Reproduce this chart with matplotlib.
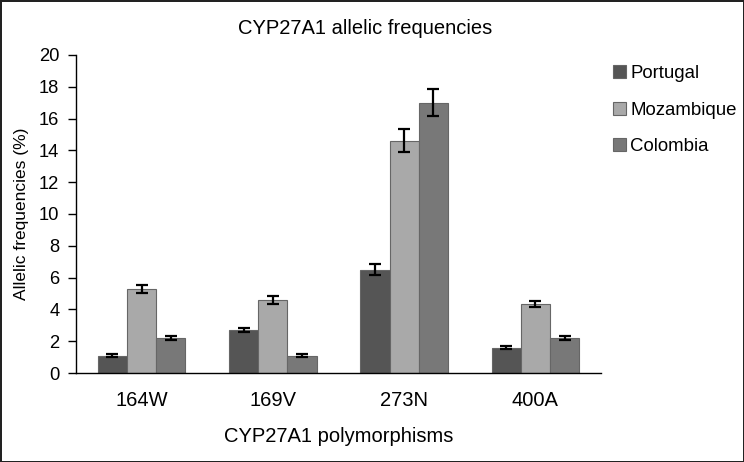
import matplotlib
matplotlib.use('Agg')

import matplotlib.pyplot as plt
import numpy as np

# data
categories = ['164W', '169V', '273N', '400A']
portugal = [1.1, 2.7, 6.5, 1.6]
portugal_err = [0.08, 0.15, 0.35, 0.08]
mozambique = [5.3, 4.6, 14.6, 4.35]
mozambique_err = [0.25, 0.25, 0.72, 0.2]
colombia = [2.2, 1.1, 17.0, 2.2]
colombia_err = [0.15, 0.07, 0.85, 0.15]

series = [('Portugal', portugal, portugal_err, '#555555'),
          ('Mozambique', mozambique, mozambique_err, '#a9a9a9'),
          ('Colombia', colombia, colombia_err, '#787878')]

plt.rcParams['font.family'] = ['Liberation Sans', 'DejaVu Sans']
plt.rcParams['font.size'] = 12.5

fig = plt.figure(figsize=(7.44, 4.62), dpi=100)
fig.patch.set_edgecolor('#222222')
fig.patch.set_linewidth(2)
ax = fig.add_axes([0.1022, 0.1926, 0.7056, 0.6884])

x = np.arange(len(categories))
w = 0.2225
for i, (name, vals, errs, col) in enumerate(series):
    ax.bar(x + (i - 1) * w, vals, w, color=col, edgecolor='#666666',
           linewidth=0.8, label=name,
           yerr=errs, capsize=4,
           error_kw=dict(ecolor='black', elinewidth=1.6, capthick=1.6))

ax.set_xlim(-0.5, len(categories) - 0.5)
ax.set_ylim(0, 20)
ax.set_yticks(np.arange(0, 21, 2))
ax.set_xticks(x)
ax.set_xticklabels(categories, fontsize=14.5)

ax.spines['top'].set_visible(False)
ax.spines['right'].set_visible(False)
ax.spines['left'].set_linewidth(1.0)
ax.spines['bottom'].set_linewidth(1.0)
ax.tick_params(axis='y', direction='out', length=6, width=1.0, pad=6,
               labelsize=13.2)
ax.tick_params(axis='x', length=0, pad=13)

ax.set_xlabel('CYP27A1 polymorphisms', fontsize=14.5, labelpad=12)
ax.set_ylabel('Allelic frequencies (%)', labelpad=7)
fig.text(365 / 744, 1 - 28 / 462, 'CYP27A1 allelic frequencies',
         ha='center', va='center', fontsize=14.5)

fig.legend(loc='upper left', bbox_to_anchor=(606 / 744, 1 - 58 / 462),
           frameon=False, handlelength=0.7, handleheight=0.7,
           handletextpad=0.2, labelspacing=1.04, borderaxespad=0,
           fontsize=13.4)

plt.savefig('out.png', dpi=100, edgecolor=fig.get_edgecolor())
